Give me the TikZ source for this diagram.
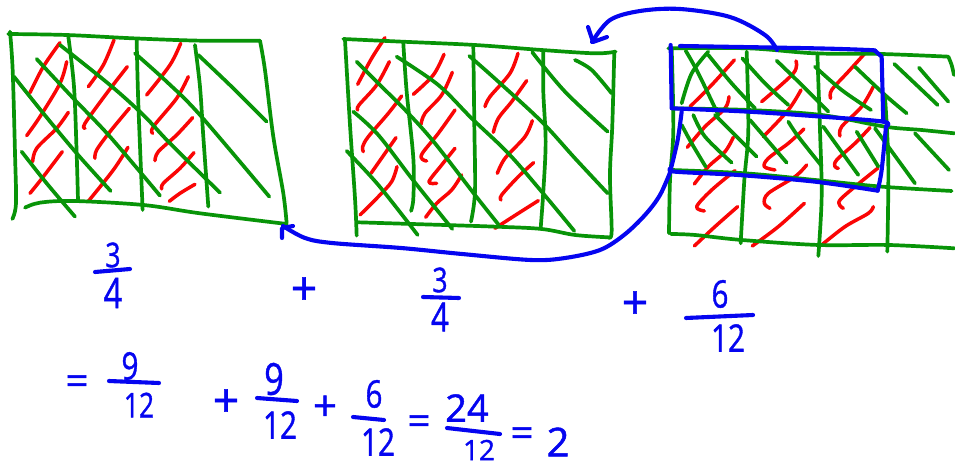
\documentclass[tikz,border=0pt]{standalone}
\usepackage{fontspec}
\setmainfont{Open Sans}[FakeBold=1.2]
\definecolor{hgreen}{RGB}{8,148,8}
\definecolor{hred}{RGB}{250,5,5}
\definecolor{hblue}{RGB}{5,5,240}
\newcommand{\G}[1]{\draw[gline] plot[smooth,tension=.55] coordinates {#1};}
\newcommand{\R}[1]{\draw[rline] plot[smooth,tension=.55] coordinates {#1};}
\newcommand{\B}[1]{\draw[bline] plot[smooth,tension=.55] coordinates {#1};}
\begin{document}
\begin{tikzpicture}[x=1pt,y=-1pt,
  gline/.style={draw=hgreen,line width=3.7pt,line cap=round,line join=round},
  rline/.style={draw=hred,line width=3.5pt,line cap=round,line join=round},
  bline/.style={draw=hblue,line width=4.1pt,line cap=round,line join=round},
  digit/.style={text=hblue,inner sep=0pt,font=\fontsize{#1}{#1}\selectfont},
  digit/.default=36,
  narrow/.style={xscale=.78}]
\useasboundingbox[fill=white] (0,0) rectangle (955,468);

% panel 1
\begin{scope}[shift={(0,20)},x=.3333pt,y=-.3333pt]
\R{(180,68)(130,140)(90,218)}
\R{(200,125)(180,190)(120,290)(80,347)}
\R{(205,277)(170,325)(110,385)(98,425)}
\R{(187,395)(130,470)(90,520)}
\R{(342,60)(310,135)(265,200)}
\R{(382,140)(320,220)(255,310)(255,325)}
\R{(388,265)(330,335)(290,390)(285,415)}
\R{(384,382)(340,450)(264,545)}
\R{(542,70)(510,135)(440,225)}
\R{(565,170)(530,235)(460,320)(458,340)}
\R{(578,293)(530,345)(475,395)(465,422)}
\R{(582,398)(540,445)(490,490)(485,507)}
\R{(585,493)(540,520)(508,544)}
\G{(25,42)(200,45)(400,55)(600,62)(780,62)}
\G{(780,62)(795,150)(820,350)(850,520)(860,610)}
\G{(75,563)(120,548)(220,543)(430,555)(600,580)(860,612)}
\G{(30,35)(38,150)(45,400)(48,550)(37,597)}
\G{(205,50)(222,200)(230,400)(234,540)}
\G{(410,60)(415,250)(428,570)}
\G{(585,75)(600,200)(610,350)(625,560)}
\G{(180,75)(330,195)(430,285)(510,370)(660,518)}
\G{(110,117)(220,235)(330,350)(480,527)}
\G{(42,170)(130,280)(230,400)(332,513)}
\G{(65,395)(140,490)(225,590)}
\G{(405,100)(500,185)(600,285)(808,530)}
\G{(595,105)(700,205)(800,305)}
\end{scope}

% panel 2
\begin{scope}[shift={(335,25)},x=.3333pt,y=-.3333pt]
\R{(150,38)(110,100)(68,178)}
\R{(163,110)(125,180)(72,240)(68,255)}
\R{(200,213)(160,265)(100,335)(83,365)(85,380)}
\R{(183,338)(150,385)(108,445)}
\R{(186,425)(170,470)(130,515)(75,570)}
\R{(327,88)(295,150)(235,208)}
\R{(352,142)(320,210)(270,265)(258,298)}
\R{(360,255)(310,325)(262,385)(262,403)(275,408)}
\R{(360,370)(320,420)(282,470)(305,475)}
\R{(380,450)(350,495)(305,535)(272,577)}
\R{(549,85)(525,145)(465,215)(450,245)}
\R{(575,167)(530,230)(490,280)(475,322)}
\R{(592,287)(570,335)(510,400)(487,445)}
\R{(596,413)(550,455)(500,510)(498,525)}
\R{(610,527)(550,565)(480,610)}
\G{(25,42)(200,50)(420,60)(620,75)(780,85)(842,80)}
\G{(838,80)(832,300)(825,450)(830,620)(820,637)}
\G{(70,592)(230,597)(480,605)(620,612)(720,630)(820,637)}
\G{(30,45)(45,300)(60,520)(65,632)}
\G{(205,55)(215,200)(235,400)(235,520)(228,558)}
\G{(415,65)(418,300)(420,500)(408,590)}
\G{(625,80)(625,200)(632,350)(625,500)(617,610)}
\G{(185,95)(310,180)(410,280)(520,385)(620,500)(718,618)}
\G{(65,110)(130,175)(220,265)(300,355)(420,510)(490,598)}
\G{(55,260)(130,330)(230,460)(352,612)}
\G{(35,378)(130,480)(248,630)}
\G{(403,93)(490,170)(620,290)(720,400)(818,505)}
\G{(592,82)(690,200)(818,320)}
\G{(720,105)(770,135)(830,205)}
\end{scope}

% panel 3
\begin{scope}[shift={(655,30)},x=.3333pt,y=-.3333pt]
\R{(238,90)(170,165)(105,230)}
\R{(222,200)(210,235)(150,290)(97,352)}
\R{(235,322)(210,365)(160,410)(118,462)}
\R{(240,422)(170,480)(125,530)(148,543)}
\R{(248,530)(180,590)(118,648)}
\R{(423,93)(415,130)(320,215)}
\R{(438,180)(400,240)(325,320)}
\R{(447,297)(400,340)(340,385)(328,410)(360,420)}
\R{(455,405)(420,440)(340,490)(328,520)(345,535)}
\R{(448,520)(370,590)(292,648)}
\R{(628,72)(580,125)(530,180)(527,205)}
\R{(655,170)(620,230)(560,290)(555,318)}
\R{(645,293)(600,340)(545,390)(540,410)(550,415)}
\R{(668,415)(600,470)(555,510)(555,527)(565,535)}
\R{(655,530)(640,550)(570,590)(500,645)}
\G{(40,55)(280,55)(480,70)(680,72)(880,80)}
\G{(880,80)(890,105)(897,135)}
\G{(50,235)(280,240)(500,255)(690,290)(800,300)(898,310)}
\G{(50,420)(270,430)(480,450)(680,470)(890,483)}
\G{(48,612)(120,615)(260,630)(490,645)(700,645)(898,655)}
\G{(50,55)(55,300)(45,450)(42,610)}
\G{(275,65)(280,300)(268,450)(257,640)}
\G{(487,70)(495,300)(500,500)(490,678)}
\G{(690,200)(700,400)(697,665)}
\G{(92,62)(130,130)(190,255)}
\G{(160,65)(110,130)(80,220)}
\G{(160,75)(230,160)(300,235)}
\G{(262,85)(330,160)(400,225)}
\G{(365,92)(430,155)(520,245)}
\G{(480,110)(560,180)(648,240)}
\G{(600,110)(690,195)(755,250)}
\G{(718,102)(790,170)(848,225)}
\G{(792,113)(880,215)}
\G{(115,255)(150,320)(230,398)}
\G{(80,285)(110,340)(152,410)}
\G{(180,255)(305,380)}
\G{(285,270)(395,398)}
\G{(400,275)(430,320)(500,408)}
\G{(505,290)(610,435)}
\G{(605,305)(670,410)}
\G{(660,295)(700,350)(780,460)}
\G{(780,310)(882,420)}
% blue boxes
\B{(75,48)(480,55)(640,60)(660,62)}
\draw[bline] (660,62) -- (680,80) -- (685,275);
\B{(47,45)(50,232)}
\B{(50,235)(280,245)(500,260)(685,275)(693,290)}
\B{(693,290)(680,420)(668,482)}
\B{(668,482)(480,455)(250,435)(60,425)(48,415)}
\B{(80,245)(68,330)(48,415)}
\end{scope}

% arrows
\B{(777,50)(765,35)(730,17)(680,9)(640,11)(610,20)(592,42)}
\draw[bline] (588,27) -- (593,42) -- (607,37);
\B{(671,170)(660,195)(645,215)(624,235)(600,250)(565,258)(531,260)(462,254)(401,248)(332,243)(305,238)(283,226)}
\draw[bline] (282,238) -- (282,228) -- (293,226);

% fractions and signs
\node[digit=34,narrow] (a3) at (113,255) {3};
\draw[bline] (95,272) -- (130,269);
\node[digit=42,narrow] (a4) at (113,293) {4};
\node[digit=46] (p1) at (304,291) {+};
\node[digit=34,narrow] (b3) at (440,280) {3};
\draw[bline] (423,297) -- (459,298);
\node[digit=40,narrow] (b4) at (440,317) {4};
\node[digit=46] (p2) at (635,305) {+};
\node[digit=38,narrow] (c6) at (720,294) {6};
\draw[bline] (686,318) -- (753,315);
\node[digit=38,narrow] (c12) at (728,338) {12};

\node[digit=40] (e1) at (77,385) {=};
\node[digit=38,narrow] (d9) at (130,366) {9};
\draw[bline] (109,381) -- (159,383);
\node[digit=34,narrow] (d12) at (139,405) {12};
\node[digit=46] (p3) at (226,403) {+};
\node[digit=44,narrow] (f9) at (274,379) {9};
\draw[bline] (257,398) -- (297,401);
\node[digit=38,narrow] (f12) at (280,425) {12};
\node[digit=42] (p4) at (325,408) {+};
\node[digit=38,narrow] (g6) at (374,394) {6};
\draw[bline] (353,417) -- (384,420);
\node[digit=38,narrow] (g12) at (378,442) {12};
\node[digit=40] (e2) at (419,425) {=};
\node[digit=38] (h24) at (467,408) {24};
\draw[bline] (447,428) -- (500,434);
\node[digit=28] (h12) at (479,450) {12};
\node[digit=40] (e3) at (522,437) {=};
\node[digit=40] (h2) at (558,442) {2};
\end{tikzpicture}
\end{document}
